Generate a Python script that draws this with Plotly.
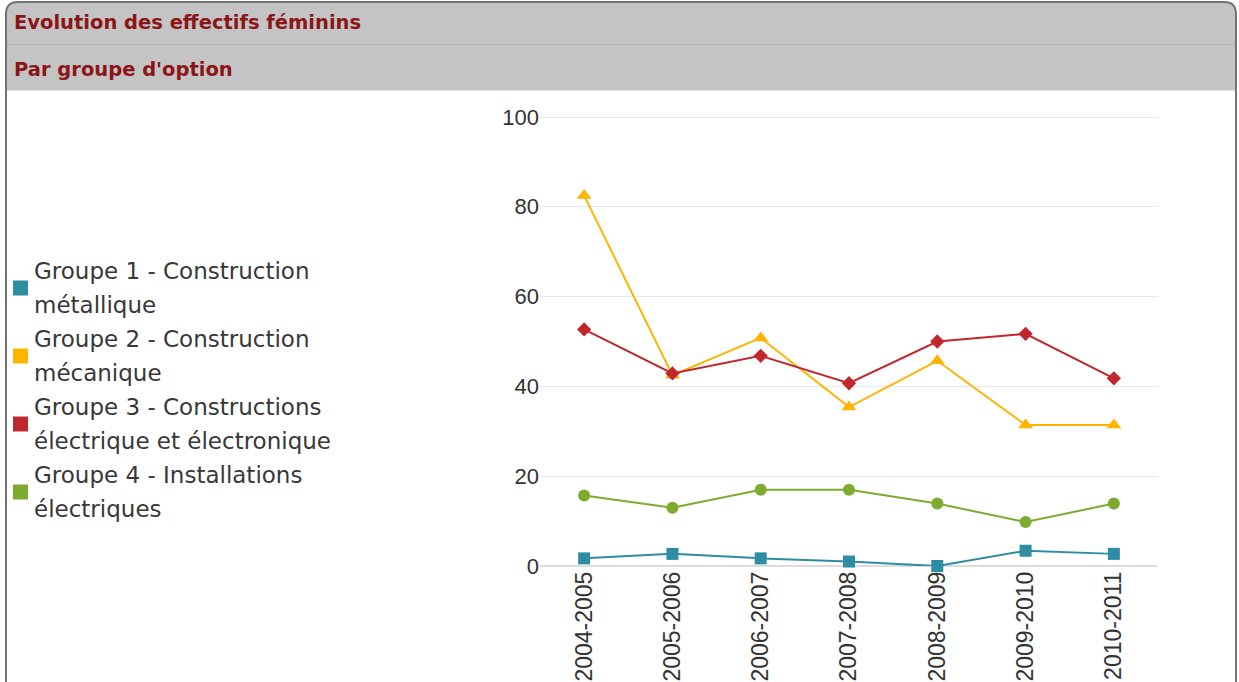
import plotly.graph_objects as go

# School years on the category axis
years = ["2004-2005", "2005-2006", "2006-2007", "2007-2008",
         "2008-2009", "2009-2010", "2010-2011"]

# Female enrolment per option group
groupe1 = [1.7, 2.7, 1.7, 1.0, 0.0, 3.4, 2.7]
groupe2 = [82.5, 42.5, 50.8, 35.4, 45.7, 31.4, 31.4]
groupe3 = [52.7, 42.9, 46.8, 40.7, 50.0, 51.7, 41.8]
groupe4 = [15.7, 13.0, 17.0, 17.0, 13.9, 9.8, 13.9]

series_names = [
    ("Groupe 1 - Construction", "métallique"),
    ("Groupe 2 - Construction", "mécanique"),
    ("Groupe 3 - Constructions", "électrique et électronique"),
    ("Groupe 4 - Installations", "électriques"),
]
series_values = [groupe1, groupe2, groupe3, groupe4]
series_colors = ["#2e8ca3", "#ffb400", "#c0282e", "#7cab2f"]
series_symbols = ["square", "triangle-up", "diamond", "circle"]
series_sizes = [12, 13, 11, 12]

y_ticks = [0, 20, 40, 60, 80, 100]

title_text = "Evolution des effectifs féminins"
subtitle_text = "Par groupe d'option"

W, H = 1239, 682


def px(x):
    return x / W


def py(y):
    return 1 - y / H


fig = go.Figure()

for name, vals, col, sym, size in zip(series_names, series_values,
                                      series_colors, series_symbols,
                                      series_sizes):
    fig.add_trace(go.Scatter(
        x=years, y=vals, name=" ".join(name), mode="lines+markers",
        line=dict(color=col, width=2),
        marker=dict(symbol=sym, size=size, color=col, line=dict(width=0)),
        cliponaxis=False, showlegend=False,
    ))

shapes = []
# grey header band with rounded top corners
r = 12
shapes.append(dict(
    type="path", xref="paper", yref="paper", layer="below",
    path=(f"M {px(6)},{py(90)} L {px(6)},{py(2 + r)} "
          f"Q {px(6)},{py(2)} {px(6 + r)},{py(2)} "
          f"L {px(1236 - r)},{py(2)} "
          f"Q {px(1236)},{py(2)} {px(1236)},{py(2 + r)} "
          f"L {px(1236)},{py(90)} Z"),
    fillcolor="#c4c4c4", line=dict(width=0),
))
# panel border
shapes.append(dict(
    type="path", xref="paper", yref="paper", layer="above",
    path=(f"M {px(6)},{py(H + 10)} L {px(6)},{py(2 + r)} "
          f"Q {px(6)},{py(2)} {px(6 + r)},{py(2)} "
          f"L {px(1236 - r)},{py(2)} "
          f"Q {px(1236)},{py(2)} {px(1236)},{py(2 + r)} "
          f"L {px(1236)},{py(H + 10)}"),
    fillcolor="rgba(0,0,0,0)", line=dict(color="#737373", width=2),
))
# separators inside the header
shapes.append(dict(type="line", xref="paper", yref="paper",
                   x0=px(7), x1=px(1235), y0=py(44.5), y1=py(44.5),
                   line=dict(color="#b3b3b3", width=1)))
shapes.append(dict(type="line", xref="paper", yref="paper",
                   x0=px(7), x1=px(1235), y0=py(90.5), y1=py(90.5),
                   line=dict(color="#e2e2e2", width=1)))

annotations = [
    dict(text=f"<b>{title_text}</b>", x=px(12), y=py(23), xref="paper",
         yref="paper", xanchor="left", yanchor="middle", showarrow=False,
         font=dict(family="DejaVu Sans", size=19.5, color="#8c1518")),
    dict(text=f"<b>{subtitle_text}</b>", x=px(12), y=py(69), xref="paper",
         yref="paper", xanchor="left", yanchor="middle", showarrow=False,
         font=dict(family="DejaVu Sans", size=19.5, color="#8c1518")),
]

# legend: coloured square and two text lines per series
line_gap = 34
first_line = 271
for i, (name, col) in enumerate(zip(series_names, series_colors)):
    y1 = first_line + i * 2 * line_gap
    y2 = y1 + line_gap
    for j, part in enumerate(name):
        annotations.append(dict(
            text=part, x=px(32), y=py(y1 + j * line_gap), xref="paper",
            yref="paper", xanchor="left", yanchor="middle", showarrow=False,
            font=dict(family="DejaVu Sans", size=23, color="#383838")))
    yc = (y1 + y2) / 2
    shapes.append(dict(type="rect", xref="paper", yref="paper",
                       x0=px(13), x1=px(28), y0=py(yc - 7.5), y1=py(yc + 7.5),
                       fillcolor=col, line=dict(width=0)))

# 0 sits at y=566 px and 100 at y=117 px; the axis runs a little past 100
y_top = 100.5
unit_px = (566 - 117) / 100

fig.update_layout(
    width=W, height=H,
    margin=dict(l=0, r=0, t=0, b=0),
    paper_bgcolor="white", plot_bgcolor="white",
    shapes=shapes, annotations=annotations,
    xaxis=dict(
        domain=[px(540), px(1158)], type="category", range=[-0.5, 6.5],
        categoryorder="array", categoryarray=years,
        tickangle=-90, showgrid=False, showline=False, zeroline=False,
        ticks="", automargin=False,
        tickfont=dict(family="Liberation Sans", size=23, color="#333333"),
    ),
    yaxis=dict(
        domain=[py(566), py(566 - y_top * unit_px)], range=[0, y_top],
        tickvals=y_ticks, ticktext=[str(v) for v in y_ticks],
        showgrid=True, gridcolor="#e8e8e8", gridwidth=1,
        zeroline=True, zerolinecolor="#dcdcdc", zerolinewidth=2,
        showline=False, ticks="", automargin=False,
        tickfont=dict(family="Liberation Sans", size=22, color="#333333"),
    ),
)

fig.write_html("out.html", config={"displayModeBar": False})
